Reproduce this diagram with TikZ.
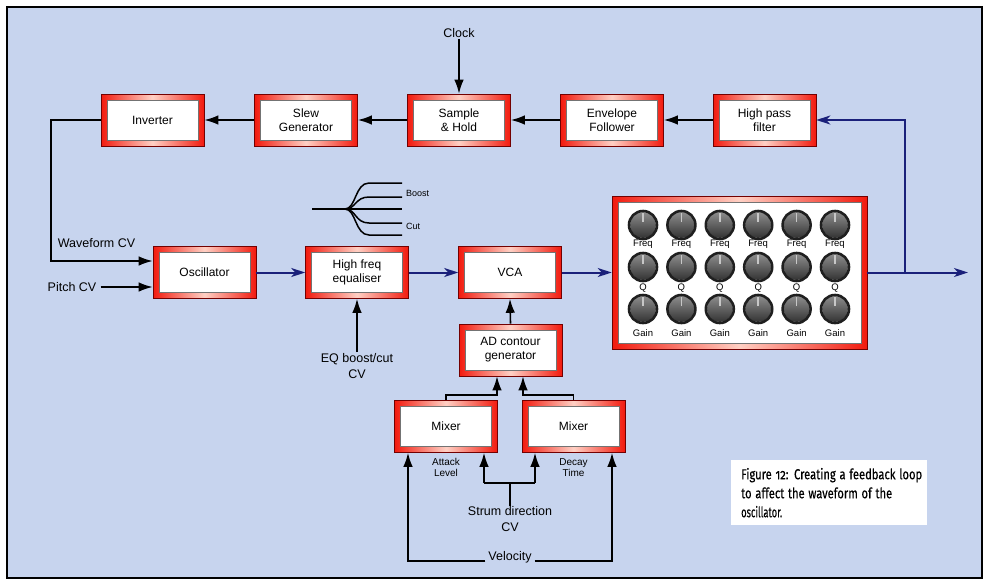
\documentclass[tikz,border=0pt]{standalone}
\usepackage{fontspec}
\setmainfont{Liberation Sans}
\newfontfamily\capfont[FakeBold=0.3,Numbers=OldStyle]{Fira Sans}
\usetikzlibrary{arrows.meta,calc}

\definecolor{bgblue}{RGB}{199,212,238}
\definecolor{boxred}{RGB}{242,26,14}
\definecolor{boxhi}{RGB}{255,208,196}
\definecolor{navy}{RGB}{26,32,122}

\newcommand{\capline}[2]{\resizebox{#1pt}{\height}{#2}}

\tikzset{
  redbox/.style={minimum width=103pt, minimum height=52pt, inner sep=0pt, align=center,
    font=\fontsize{12}{14}\selectfont,
    left color=boxred, right color=boxred, middle color=boxhi,
    draw=black!55!red, line width=0.6pt,
    path picture={\fill[white,draw=black!55,line width=0.5pt]
      ([shift={(6pt,6pt)}]path picture bounding box.south west) rectangle
      ([shift={(-6pt,-6pt)}]path picture bounding box.north east);}},
  panelbox/.style={redbox, minimum width=255pt, minimum height=153pt},
  lbl/.style={font=\fontsize{12.5}{16}\selectfont, align=center, inner sep=1pt},
  smalllbl/.style={font=\fontsize{10}{11}\selectfont, align=center, inner sep=1pt},
  knoblbl/.style={font=\fontsize{9.5}{10}\selectfont, inner sep=0pt},
  tinylbl/.style={font=\fontsize{9}{10}\selectfont, inner sep=0pt, anchor=west},
  blk/.style={draw=black, line width=1.6pt, -{Latex[length=14pt,width=9.5pt]}},
  plain/.style={draw=black, line width=1.6pt},
  blu/.style={draw=navy, line width=2pt, -{Stealth[length=14pt,width=9pt,inset=4pt]}},
}

\begin{document}
\begin{tikzpicture}[x=1pt,y=-1pt]
\useasboundingbox (0,0) rectangle (990,587);
\fill[white] (0,0) rectangle (990,587);
\draw[fill=bgblue, line width=1.5pt] (7,7) rectangle (982,578);

% top row
\node[redbox] (inv) at (152.5,120) {Inverter};
\node[redbox] (slew) at (306,120) {Slew\\Generator};
\node[redbox] (sh) at (459,120) {Sample\\\& Hold};
\node[redbox] (env) at (612,120) {Envelope\\Follower};
\node[redbox] (hpf) at (764.5,120) {High pass\\filter};

\node[lbl] (clock) at (459,33) {Clock};
\draw[blk] (clock.south) -- (sh.north);

\draw[blk] (hpf.west) -- (env.east);
\draw[blk] (env.west) -- (sh.east);
\draw[blk] (sh.west) -- (slew.east);
\draw[blk] (slew.west) -- (inv.east);

% middle row
\node[redbox] (osc) at (204.5,272.5) {Oscillator};
\node[redbox] (hfe) at (357,272.5) {High freq\\equaliser};
\node[redbox] (vca) at (510,272.5) {VCA};
\node[panelbox] (panel) at (739.5,272.5) {};

\node[lbl] (wfcv) at (96.5,243) {Waveform CV};
\node[lbl] (pitch) at (72,287) {Pitch CV};
\coordinate (wf) at (51,120);
\draw[blk] (inv.west) -- (wf) |- ($(osc.west)+(0,-11.5)$);
\draw[blk] ($(pitch.east)+(3,0)$) -- (pitch.east -| osc.west);

\draw[blu] (osc.east) -- (hfe.west);
\draw[blu] (hfe.east) -- (vca.west);
\draw[blu] (vca.east) -- (panel.west);
\coordinate (tap) at (905,272.5);
\coordinate (out) at (968,272.5);
\draw[blu] (panel.east) -- (out);
\draw[blu] (tap) |- (hpf.east);

% knobs
\foreach \i in {0,...,5}{
  \pgfmathsetmacro{\kx}{643+38.4*\i}
  \foreach \ky in {225,267,309}{
    \shade[top color=black!45, bottom color=black!80] (\kx,\ky) circle (13);
    \draw[line width=2.6pt, black!88] (\kx,\ky) circle (14);
    \draw[line width=1.6pt, black!22] (\kx,\ky-12) -- (\kx,\ky-3);
  }
  \node[knoblbl] at (\kx,244.5) {Freq};
  \node[knoblbl] at (\kx,288) {Q};
  \node[knoblbl] at (\kx,333.5) {Gain};
}

% boost / cut fan
\draw[line width=1.5pt] (312,209) -- (402,209);
\foreach \fy in {183,197,223,235}{
  \draw[line width=1.5pt] (345,209) .. controls (356,209) and (355,\fy) .. (369,\fy) -- (402,\fy);
}
\node[tinylbl] (boost) at (406,193) {Boost};
\node[tinylbl] (cut) at (406,226) {Cut};

% EQ boost/cut CV
\node[lbl] (eqcv) at (357,366) {EQ boost/cut\\CV};
\draw[blk] (eqcv.north) -- (hfe.south);

% AD contour & mixers
\node[redbox] (ad) at (510.5,350) {AD contour\\generator};
\draw[blk] (ad.north) -- (vca.south);
\node[redbox] (mixL) at (446,426.5) {Mixer};
\node[redbox] (mixR) at (573.5,426.5) {Mixer};
\draw[blk] (mixL.north) -- ++(0,-5) -| ($(ad.south)+(-13.5,0)$);
\draw[blk] (mixR.north) -- ++(0,-5) -| ($(ad.south)+(12.5,0)$);

\node[smalllbl] (atk) at (446,467.5) {Attack\\Level};
\node[smalllbl] (dec) at (573.5,467.5) {Decay\\Time};

% strum direction
\node[lbl] (strum) at (510,519.5) {Strum direction\\CV};
\coordinate (sj) at (510,483);
\coordinate (sL) at (484,483);
\coordinate (sR) at (535,483);
\draw[plain] (strum.north) -- (sj);
\draw[plain] (sL) -- (sR);
\draw[blk] (sL) -- (sL |- mixL.south);
\draw[blk] (sR) -- (sR |- mixR.south);

% velocity
\node[lbl] (vel) at (510,557) {Velocity};
\coordinate (vL) at (408,561);
\coordinate (vR) at (612,561);
\draw[blk] ($(vel.west |- vL)+(-2,0)$) -- (vL) -- (vL |- mixL.south);
\draw[blk] ($(vel.east |- vR)+(2,0)$) -- (vR) -- (vR |- mixR.south);

% caption
\node[fill=white, anchor=north west, minimum width=196pt, minimum height=65pt,
      inner xsep=10pt, inner ysep=0pt, text width=176pt, align=left,
      font=\capfont\fontsize{14.5}{19}\selectfont] (cap) at (731,460)
  {\capline{181}{Figure 12: Creating a feedback loop}\\
   \capline{151}{to affect the waveform of the}\\
   \capline{41}{oscillator.}};
\end{tikzpicture}
\end{document}
